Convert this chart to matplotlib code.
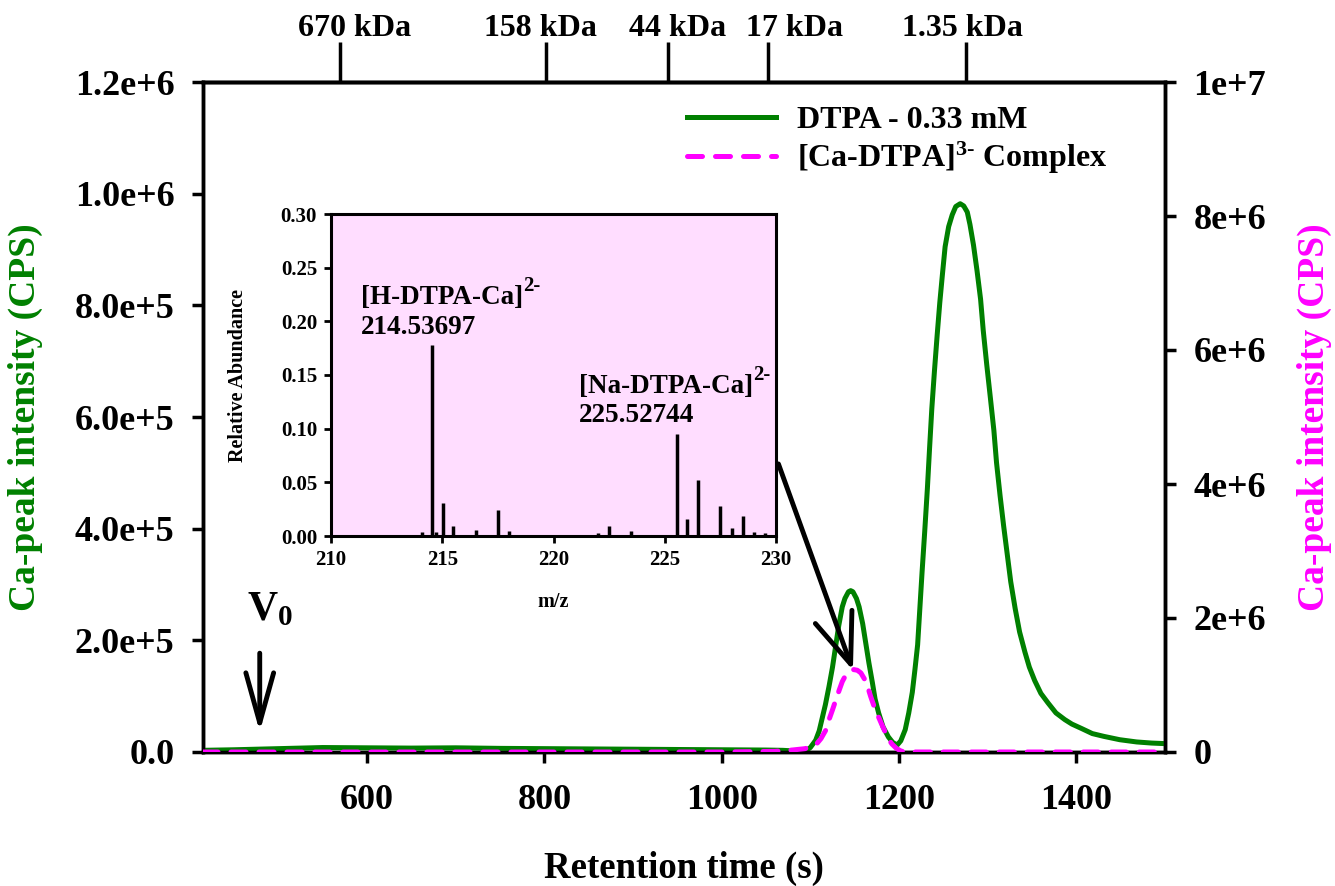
import matplotlib
matplotlib.use("Agg")
import matplotlib.pyplot as plt
from matplotlib.lines import Line2D

plt.rcParams['font.family'] = 'serif'
plt.rcParams['font.serif'] = ['Liberation Serif', 'DejaVu Serif']
plt.rcParams['font.weight'] = 'bold'
plt.rcParams['axes.labelweight'] = 'bold'
plt.rcParams['mathtext.fontset'] = 'custom'
plt.rcParams['mathtext.rm'] = 'Liberation Serif:bold'
plt.rcParams['mathtext.bf'] = 'Liberation Serif:bold'
plt.rcParams['mathtext.it'] = 'Liberation Serif:bold'

# green trace: DTPA 0.33 mM (left axis, CPS)
green_t = [415, 450, 500, 550, 600, 650, 700, 750, 800, 850, 900, 950, 1000, 1050,
           1069, 1080, 1094, 1100, 1106, 1110, 1117, 1121, 1125, 1128.5, 1132, 1136,
           1139, 1143, 1145.5, 1148, 1152, 1155, 1159, 1162.5, 1166, 1170, 1173, 1177,
           1182, 1188, 1193, 1198, 1202, 1207, 1211, 1215, 1218, 1221, 1226, 1229,
           1232, 1234.5, 1237, 1240, 1243, 1246, 1249, 1252, 1256, 1260, 1264, 1269,
           1273, 1277, 1280, 1284, 1288, 1292, 1295, 1299, 1303, 1307, 1310, 1314,
           1318, 1322, 1326, 1331, 1336, 1342, 1347, 1353, 1360, 1368, 1377, 1387,
           1395, 1406, 1418, 1431, 1440, 1449, 1468, 1485, 1500]
green_v = [3e3, 4e3, 6e3, 8e3, 7.5e3, 7e3, 7.5e3, 6.5e3, 6e3, 5.5e3, 5e3, 4.5e3, 4e3, 3.5e3,
           3e3, 2e3, 1e3, 8e3, 21e3, 38e3, 85e3, 117e3, 152e3, 189e3, 226e3, 260e3,
           275e3, 287e3, 289e3, 287e3, 275e3, 260e3, 230e3, 195e3, 160e3, 124e3, 95e3, 70e3,
           45e3, 27e3, 17e3, 12.5e3, 20e3, 40e3, 70e3, 107e3, 148e3, 192e3, 322e3, 395e3,
           472e3, 545e3, 615e3, 683e3, 746e3, 805e3, 856e3, 905e3, 941e3, 962e3, 977e3, 982e3,
           978e3, 967e3, 945e3, 908e3, 862e3, 811e3, 755e3, 693e3, 635e3, 576e3, 518e3, 459e3,
           405e3, 355e3, 305e3, 257e3, 215e3, 179e3, 152e3, 128e3, 105e3, 88e3, 70e3, 58e3,
           50e3, 42e3, 33e3, 28e3, 25e3, 22e3, 18e3, 16e3, 15e3]

# magenta trace: [Ca-DTPA]3- complex (right axis, CPS)
mag_t = [415, 600, 800, 1000, 1060, 1080, 1094, 1106, 1112, 1117.6, 1121, 1125, 1128.8,
         1132.6, 1136, 1140, 1144.5, 1149, 1153, 1157, 1161, 1164.6, 1168, 1172, 1176,
         1180, 1184, 1187.6, 1192, 1197, 1202, 1207, 1300, 1400, 1500]
mag_v = [0, 0, 0, 0, 0.01e6, 0.03e6, 0.05e6, 0.104e6, 0.2e6, 0.33e6, 0.48e6, 0.63e6, 0.78e6,
         0.925e6, 1.05e6, 1.15e6, 1.21e6, 1.23e6, 1.22e6, 1.18e6, 1.09e6, 0.975e6, 0.83e6,
         0.676e6, 0.55e6, 0.428e6, 0.31e6, 0.204e6, 0.12e6, 0.055e6, 0.015e6, 0.0, 0, 0, 0]

# inset mass spectrum
mz = [214.1, 214.54, 214.7, 215.04, 215.5, 216.5, 217.5, 218.0, 222.0, 222.5, 223.5,
      225.53, 226.0, 226.5, 227.5, 228.0, 228.5, 229.0, 229.5]
abund = [0.004, 0.1775, 0.004, 0.031, 0.009, 0.006, 0.024, 0.005, 0.003, 0.009, 0.005,
         0.095, 0.016, 0.052, 0.028, 0.007, 0.019, 0.004, 0.003]

# calibration standards on the top axis
mw_t = [570, 802, 939, 1052, 1276]
mw_labels = ['670 kDa', '158 kDa', '44 kDa', '17 kDa', '1.35 kDa']
mw_label_shift = [10, -4, 7, 19, -3]   # points, labels nudged off their ticks

x_ticks = [600, 800, 1000, 1200, 1400]
left_ticks = [0, 2e5, 4e5, 6e5, 8e5, 1e6, 1.2e6]
left_labels = ['0.0', '2.0e+5', '4.0e+5', '6.0e+5', '8.0e+5', '1.0e+6', '1.2e+6']
right_ticks = [0, 2e6, 4e6, 6e6, 8e6, 1e7]
right_labels = ['0', '2e+6', '4e+6', '6e+6', '8e+6', '1e+7']

green = '#008000'
magenta = '#ff00ff'

fig = plt.figure(figsize=(13.35, 8.86), dpi=100)
ax = fig.add_axes([203/1335, 134/886, 962/1335, 670/886])
ax2 = ax.twinx()

ax.plot(green_t, green_v, color=green, lw=3.6, solid_joinstyle='round', zorder=3)
ax2.plot(mag_t, mag_v, color=magenta, lw=3.6, dashes=(3, 2.6), dash_capstyle='round', zorder=4)

ax.set_xlim(415, 1500)
ax.set_ylim(0, 1.2e6)
ax2.set_ylim(0, 1e7)

ax.set_xticks(x_ticks)
ax.set_yticks(left_ticks)
ax.set_yticklabels(left_labels)
ax2.set_yticks(right_ticks)
ax2.set_yticklabels(right_labels)

for a in (ax, ax2):
    for s in a.spines.values():
        s.set_linewidth(2.5)
    a.tick_params(direction='out', length=8, width=2.5, labelsize=26, pad=12.5)
ax.tick_params(axis='x', pad=15)

ax.set_xlabel('Retention time (s)', fontsize=26.5)
ax.xaxis.set_label_coords(0.5, -0.147)
ax.set_ylabel('Ca-peak intensity (CPS)', fontsize=27, color=green)
ax.yaxis.set_label_coords(-0.166, 0.5)
ax2.set_ylabel('Ca-peak intensity (CPS)', fontsize=27, color=magenta)
ax2.yaxis.set_label_coords(1.137, 0.5)

# top axis with molecular weight standards
top = ax.secondary_xaxis('top')
top.set_xticks(mw_t)
top.set_xticklabels([])
top.set_xticks(mw_t, minor=True)
top.tick_params(which='major', direction='out', length=29, width=2.5)
top.tick_params(which='minor', direction='in', length=14, width=2.5)
top.spines['top'].set_linewidth(2.5)
for t, lab, dx in zip(mw_t, mw_labels, mw_label_shift):
    ax.annotate(lab, xy=(t, 1), xycoords=('data', 'axes fraction'),
                xytext=(dx, 33), textcoords='offset points',
                ha='center', va='baseline', fontsize=23, annotation_clip=False)

# legend
handles = [Line2D([], [], color=green, lw=3.6),
           Line2D([], [], color=magenta, lw=3.6, dashes=(3, 2.6), dash_capstyle='round')]
ax2.legend(handles, ['DTPA - 0.33 mM', r'[Ca-DTPA]$^{3\text{-}}$ Complex'], loc='upper left',
           bbox_to_anchor=(0.503, 0.965), frameon=False, fontsize=23, handlelength=2.8,
           handletextpad=0.65, labelspacing=0.15, borderpad=0, borderaxespad=0)

# V0 marker
ax.text(465, 236e3, 'V$_{0}$', fontsize=30, ha='left', va='baseline')
ax.annotate('', xy=(479, 36e3), xytext=(479, 177e3),
            arrowprops=dict(arrowstyle='->,head_length=1.8,head_width=0.5',
                            mutation_scale=20, lw=3.5, color='black',
                            shrinkA=0, shrinkB=0))

# arrow from inset to complex peak
ax2.annotate('', xy=(1148, 1.22e6), xytext=(1064, 4.3e6),
             arrowprops=dict(arrowstyle='->,head_length=1.8,head_width=0.7',
                             mutation_scale=20, lw=3.5, color='black',
                             shrinkA=0, shrinkB=0), zorder=6)

# inset
ins = fig.add_axes([331/1335, 350/886, 445/1335, 322/886])
ins.set_facecolor('#ffddff')
ins.vlines(mz, 0, abund, color='black', lw=2.5)
ins.set_xlim(210, 230)
ins.set_ylim(0, 0.30)
ins.set_xticks([210, 215, 220, 225, 230])
ins.set_yticks([0, 0.05, 0.10, 0.15, 0.20, 0.25, 0.30])
ins.set_yticklabels(['0.00', '0.05', '0.10', '0.15', '0.20', '0.25', '0.30'])
for s in ins.spines.values():
    s.set_linewidth(2.2)
ins.tick_params(direction='out', length=5, width=2, labelsize=15, pad=5)
ins.set_ylabel('Relative Abundance', fontsize=14.5)
ins.yaxis.set_label_coords(-0.187, 0.5)
ins.set_xlabel('m/z', fontsize=14.5)
ins.xaxis.set_label_coords(0.5, -0.174)

t1 = ins.text(211.33, 0.216, '[H-DTPA-Ca]', fontsize=19.5, va='baseline')
ins.annotate('2-', xy=(1.0, 0.55), xycoords=t1, fontsize=15, ha='left', va='bottom')
ins.text(211.33, 0.188, '214.53697', fontsize=19.5, va='baseline')
t2 = ins.text(221.14, 0.133, '[Na-DTPA-Ca]', fontsize=19.5, va='baseline')
ins.annotate('2-', xy=(1.0, 0.55), xycoords=t2, fontsize=15, ha='left', va='bottom')
ins.text(221.14, 0.106, '225.52744', fontsize=19.5, va='baseline')

fig.savefig('out.png', dpi=100)
